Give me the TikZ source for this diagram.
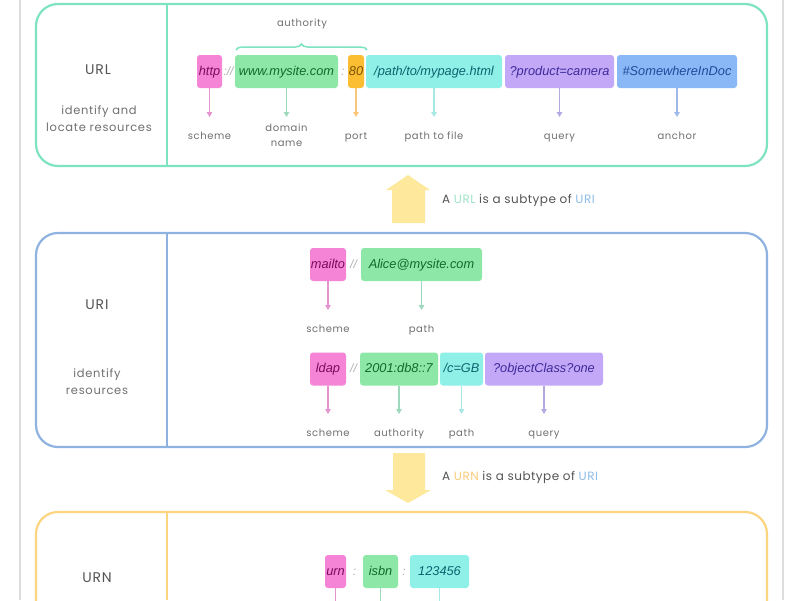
\documentclass[tikz,border=0pt]{standalone}
\usepackage{fontspec}
\setmainfont{Liberation Sans}
\newfontfamily\lblfont[LetterSpace=6]{Poppins}
\newfontfamily\subfont[LetterSpace=4]{Poppins}
\usetikzlibrary{arrows.meta,decorations.pathreplacing}
\definecolor{mint}{HTML}{7EE3C3}
\definecolor{uriblue}{HTML}{8EB3E0}
\definecolor{urnorange}{HTML}{FDD47F}
\definecolor{pagegray}{HTML}{DDDDDD}
\definecolor{pinkF}{HTML}{F584D6}\definecolor{pinkT}{HTML}{7A0B5E}\definecolor{pinkA}{HTML}{E594CF}
\definecolor{greenF}{HTML}{8DE8A8}\definecolor{greenT}{HTML}{106A2C}\definecolor{greenA}{HTML}{9ED9BE}
\definecolor{orangeF}{HTML}{FBBE33}\definecolor{orangeT}{HTML}{7B5200}\definecolor{orangeA}{HTML}{F9C77A}
\definecolor{tealF}{HTML}{8EF0E6}\definecolor{tealT}{HTML}{0D6470}\definecolor{tealA}{HTML}{A8E8E4}
\definecolor{purpleF}{HTML}{C2A8F7}\definecolor{purpleT}{HTML}{3E2A9A}\definecolor{purpleA}{HTML}{B5A9E2}
\definecolor{blueF}{HTML}{8AB8F7}\definecolor{blueT}{HTML}{1E4A9A}\definecolor{blueA}{HTML}{9FB8EA}
\definecolor{sepgray}{HTML}{B0B0B0}
\definecolor{lblgray}{HTML}{707070}
\definecolor{titlegray}{HTML}{555555}
\definecolor{bigarrow}{HTML}{FDE89C}
\definecolor{urltxt}{HTML}{9FE3C6}
\definecolor{uritxt}{HTML}{8FBDE8}
\definecolor{urntxt}{HTML}{FCCB7A}
\begin{document}
\begin{tikzpicture}[x=1pt,y=-1pt,
  panel/.style={draw, line width=2.2pt, rounded corners=22pt, inner sep=0pt},
  seg/.style={rounded corners=3pt, inner sep=0pt, minimum height=33pt, text height=10pt, text depth=3pt,
    font=\fontsize{12.8}{14}\selectfont\itshape},
  sep/.style={text=sepgray, font=\fontsize{12}{14}\selectfont\itshape, inner sep=0pt, text height=10pt, text depth=3pt},
  lbltwo/.style={text=lblgray, font=\lblfont\fontsize{10}{15}\selectfont, inner sep=0pt, anchor=north, align=center},
  lbl/.style={lbltwo, text height=7.5pt, text depth=2.5pt},
  side/.style={text=lblgray, font=\lblfont\fontsize{11.5}{17}\selectfont, inner sep=0pt, align=center},
  title/.style={text=titlegray, font=\lblfont\fontsize{14}{16}\selectfont, inner sep=0pt},
  subtxt/.style={anchor=west, inner sep=0pt, font=\subfont\fontsize{12}{14}\selectfont, text=titlegray},
  pt/.style={line width=1.5pt, -{Triangle[width=5.5pt,length=5pt]}, shorten >=15pt},
  divider/.style={line width=2pt}
]
\useasboundingbox (0,0) rectangle (800,600);
\clip (0,0) rectangle (800,600);
\fill[white] (0,0) rectangle (800,600);
% page edges
\draw[pagegray, line width=1.5pt] (20,0) -- (20,600);
\draw[pagegray, line width=1.5pt] (783,0) -- (783,600);

% ================= URL panel =================
\node[panel, draw=mint, minimum width=731pt, minimum height=162pt] (urlbox) at (401.5,85) {};
\draw[divider, mint] (167,4) -- (167,166);
\node[title] (urlt) at (98,70) {URL};
\node[side] (urld) at (99,119) {identify and\\locate resources};

\node[seg, fill=pinkF, text=pinkT, minimum width=25pt] (http) at (209.5,71.5) {http};
\node[sep] (s1) at (228.5,71.5) {://};
\node[seg, fill=greenF, text=greenT, minimum width=103pt] (dom) at (286.5,71.5) {www.mysite.com};
\node[sep] (s2) at (343,71.5) {:};
\node[seg, fill=orangeF, text=orangeT, minimum width=16pt] (port) at (356,71.5) {80};
\node[seg, fill=tealF, text=tealT, minimum width=136pt] (path) at (434,71.5) {/path/to/mypage.html};
\node[seg, fill=purpleF, text=purpleT, minimum width=109pt] (query) at (559.5,71.5) {?product=camera};
\node[seg, fill=blueF, text=blueT, minimum width=120pt] (anchor) at (677,71.5) {\#SomewhereInDoc};

\draw[mint, line width=1.5pt, decorate, decoration={brace, amplitude=6pt}] (236,50) -- (367,50);
\node[lbl, anchor=center] (auth) at (302,24) {authority};

\node[lbl] (l1) at (209.5,132) {scheme};
\node[lbltwo] (l2) at (286.5,124) {domain\\name};
\node[lbl] (l3) at (356,132) {port};
\node[lbl] (l4) at (434,132) {path to file};
\node[lbl] (l5) at (559.5,132) {query};
\node[lbl] (l6) at (677,132) {anchor};
\draw[pt, pinkA] (http.south) -- (l1.north);
\draw[pt, greenA, shorten >=7pt] (dom.south) -- (l2.north);
\draw[pt, orangeA] (port.south) -- (l3.north);
\draw[pt, tealA] (path.south) -- (l4.north);
\draw[pt, purpleA] (query.south) -- (l5.north);
\draw[pt, blueA] (anchor.south) -- (l6.north);

% ================= up arrow =================
\fill[bigarrow] (408,175) -- (430,190) -- (425,190) -- (425,223) -- (392,223) -- (392,190) -- (386,190) -- cycle;
\node[subtxt] (sub1) at (442,200)
  {A \textcolor{urltxt}{URL} is a subtype of \textcolor{uritxt}{URI}};

% ================= URI panel =================
\node[panel, draw=uriblue, minimum width=731pt, minimum height=214pt] (uribox) at (401.5,340) {};
\draw[divider, uriblue] (167,233) -- (167,447);
\node[title] (urit) at (97,305) {URI};
\node[side] (urid) at (97,382) {identify\\resources};

\node[seg, fill=pinkF, text=pinkT, minimum width=36pt] (mailto) at (328,264.5) {mailto};
\node[sep] (s3) at (353.5,264.5) {//};
\node[seg, fill=greenF, text=greenT, minimum width=121pt] (alice) at (421.5,264.5) {Alice@mysite.com};
\node[lbl] (m1) at (328,325) {scheme};
\node[lbl] (m2) at (421.5,325) {path};
\draw[pt, pinkA] (mailto.south) -- (m1.north);
\draw[pt, greenA] (alice.south) -- (m2.north);

\node[seg, fill=pinkF, text=pinkT, minimum width=36pt] (ldap) at (328,369) {ldap};
\node[sep] (s4) at (353.5,369) {//};
\node[seg, fill=greenF, text=greenT, minimum width=78pt] (ip) at (399,369) {2001:db8::7};
\node[seg, fill=tealF, text=tealT, minimum width=43pt] (cgb) at (461.5,369) {/c=GB};
\node[seg, fill=purpleF, text=purpleT, minimum width=118pt] (obj) at (544,369) {?objectClass?one};
\node[lbl] (n1) at (328,429) {scheme};
\node[lbl] (n2) at (399,429) {authority};
\node[lbl] (n3) at (461.5,429) {path};
\node[lbl] (n4) at (544,429) {query};
\draw[pt, pinkA] (ldap.south) -- (n1.north);
\draw[pt, greenA] (ip.south) -- (n2.north);
\draw[pt, tealA] (cgb.south) -- (n3.north);
\draw[pt, purpleA] (obj.south) -- (n4.north);

% ================= down arrow =================
\fill[bigarrow] (393,453) -- (425,453) -- (425,490) -- (431,490) -- (408,503) -- (385,490) -- (393,490) -- cycle;
\node[subtxt] (sub2) at (442,477)
  {A \textcolor{urntxt}{URN} is a subtype of \textcolor{uritxt}{URI}};

% ================= URN panel =================
\node[panel, draw=urnorange, minimum width=731pt, minimum height=200pt] (urnbox) at (401.5,612) {};
\draw[divider, urnorange] (167,512) -- (167,600);
\node[title] (urnt) at (97,578) {URN};

\node[seg, fill=pinkF, text=pinkT, minimum width=21pt] (urn) at (335.5,571.5) {urn};
\node[sep] (s5) at (354.5,571.5) {:};
\node[seg, fill=greenF, text=greenT, minimum width=35pt] (isbn) at (380.5,571.5) {isbn};
\node[sep] (s6) at (404,571.5) {:};
\node[seg, fill=tealF, text=tealT, minimum width=59pt] (num) at (439.5,571.5) {123456};
\coordinate (e1) at (335.5,640);
\coordinate (e2) at (380.5,640);
\coordinate (e3) at (439.5,640);
\draw[line width=1.5pt, pinkA] (urn.south) -- (e1);
\draw[line width=1.5pt, greenA] (isbn.south) -- (e2);
\draw[line width=1.5pt, tealA] (num.south) -- (e3);
\end{tikzpicture}
\end{document}
